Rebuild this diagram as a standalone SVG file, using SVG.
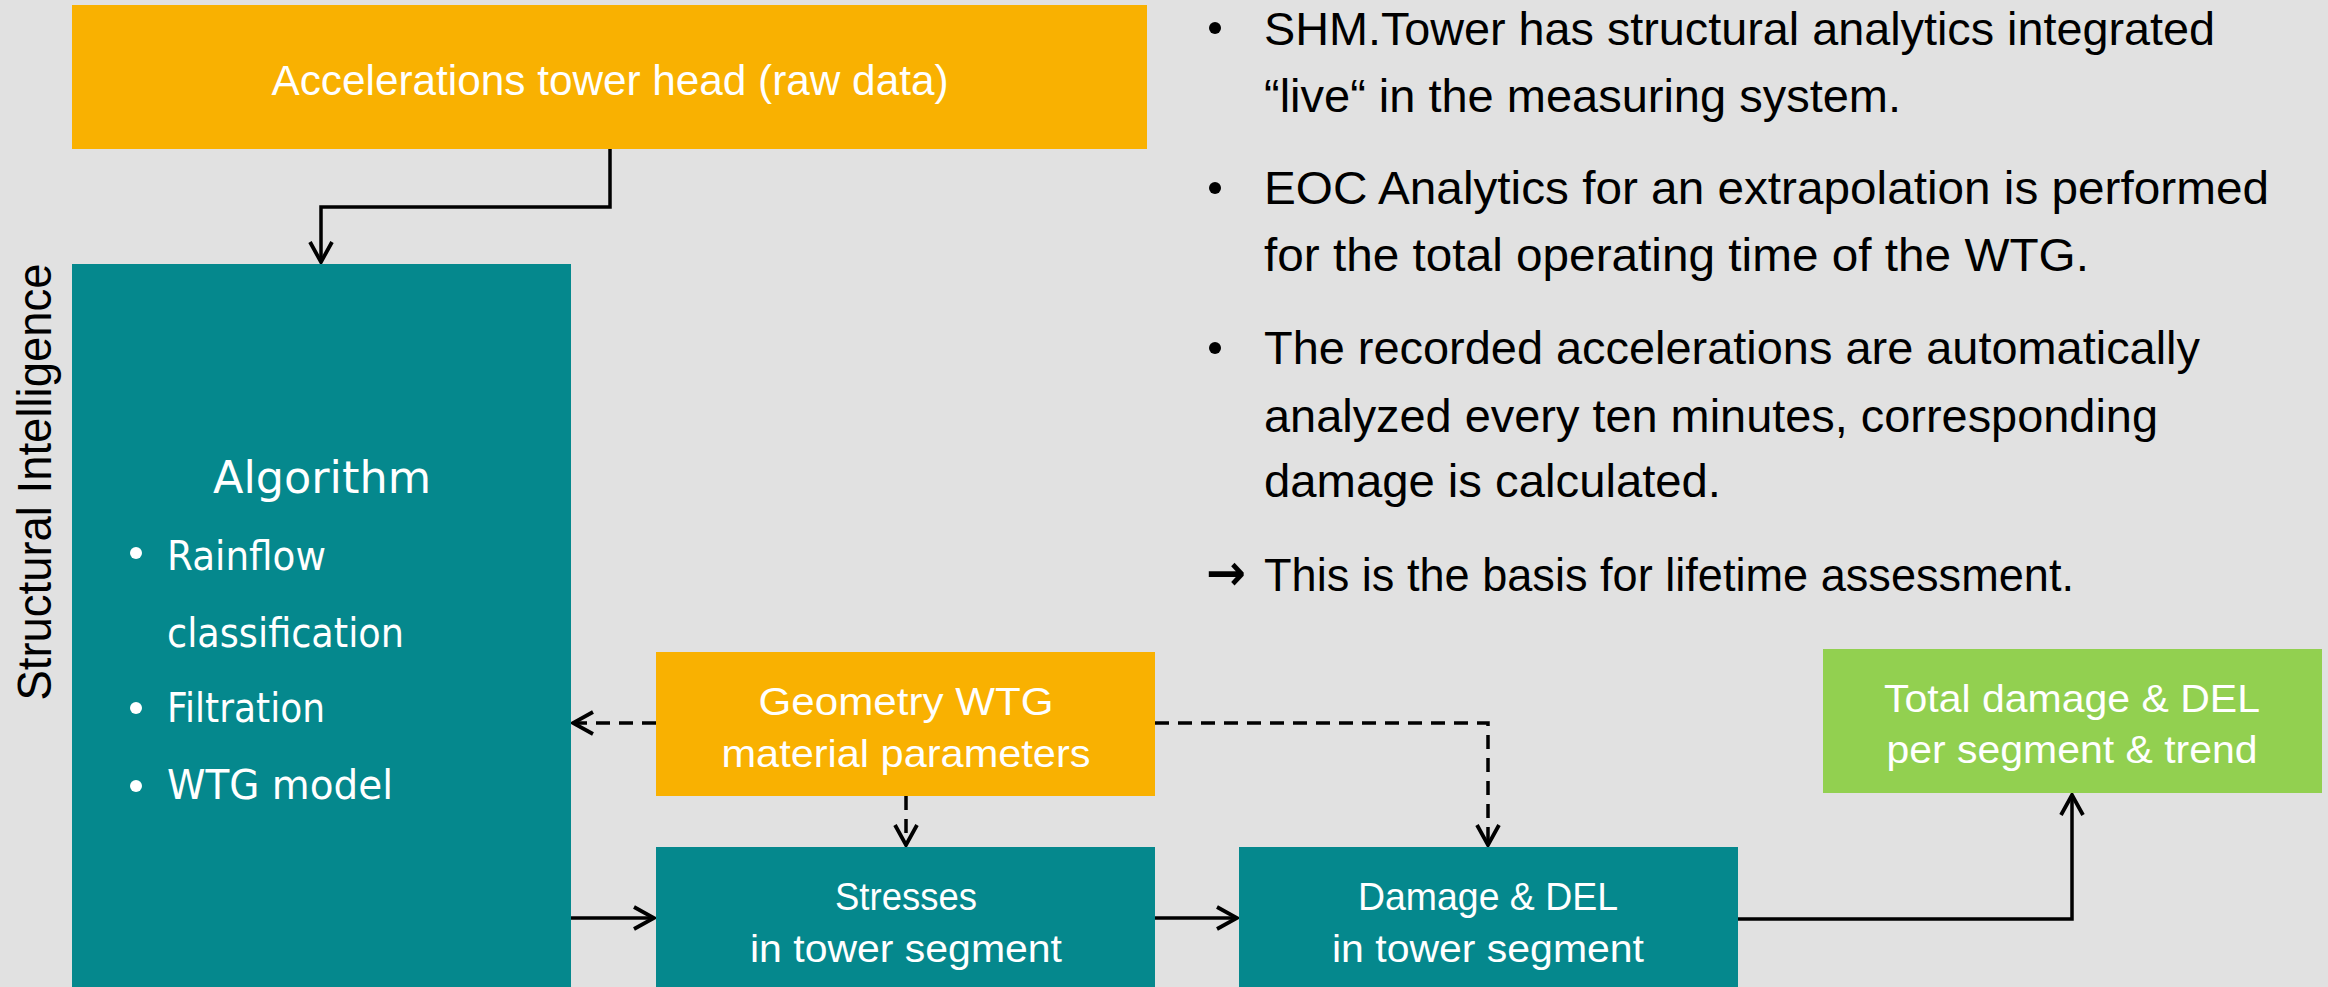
<svg xmlns="http://www.w3.org/2000/svg" width="2328" height="987" viewBox="0 0 2328 987">
<style>
.box-o{fill:#F9B101}
.box-t{fill:#05888D}
.box-g{fill:#92D050}
.wt{fill:#fff;font-family:"Liberation Sans",Arial,sans-serif;text-anchor:middle}
.alg{fill:#fff;font-family:"DejaVu Sans","Liberation Sans",sans-serif}
.bt{fill:#000;font-family:"Liberation Sans",Arial,sans-serif;font-size:46px}
.ln{fill:none;stroke:#000;stroke-width:3.5}
.dash{stroke-dasharray:14 9}
</style>
<defs>
<marker id="arr" viewBox="0 0 24 26" markerWidth="24" markerHeight="26" refX="22" refY="13" orient="auto" markerUnits="userSpaceOnUse">
<path d="M2,2 L22,13 L2,24" fill="none" stroke="#000" stroke-width="3.8"/>
</marker>
</defs>
<rect width="2328" height="987" fill="#E1E1E1"/>

<g id="connectors">
<path class="ln" d="M610,149 V207 H321 V262" marker-end="url(#arr)"/>
<path class="ln" d="M571,918 H654" marker-end="url(#arr)"/>
<path class="ln" d="M1155,918 H1237" marker-end="url(#arr)"/>
<path class="ln" d="M1738,919 H2072 V795" marker-end="url(#arr)"/>
<path class="ln dash" d="M656,723 H573" marker-end="url(#arr)"/>
<path class="ln dash" d="M1155,723 H1488 V845" marker-end="url(#arr)"/>
<path class="ln dash" d="M906,796 V845" marker-end="url(#arr)"/>
</g>

<g id="label-structural">
<text transform="translate(51,482) rotate(-90)" x="0" y="0" font-family="'Liberation Sans',Arial,sans-serif" font-size="48" fill="#000" text-anchor="middle" textLength="437" lengthAdjust="spacingAndGlyphs">Structural Intelligence</text>
</g>

<g id="node-accel">
<rect class="box-o" x="72" y="5" width="1075" height="144"/>
<text class="wt" x="610" y="95" font-size="42" textLength="677" lengthAdjust="spacingAndGlyphs">Accelerations tower head (raw data)</text>
</g>

<g id="node-algorithm">
<rect class="box-t" x="72" y="264" width="499" height="730"/>
<text class="alg" x="213" y="493" font-size="44" textLength="218" lengthAdjust="spacingAndGlyphs">Algorithm</text>
<circle cx="136" cy="553" r="6" fill="#fff"/>
<text class="alg" x="167" y="570" font-size="40" textLength="159" lengthAdjust="spacingAndGlyphs">Rainflow</text>
<text class="alg" x="167" y="647" font-size="40" textLength="237" lengthAdjust="spacingAndGlyphs">classification</text>
<circle cx="136" cy="708" r="6" fill="#fff"/>
<text class="alg" x="167" y="722" font-size="40" textLength="158" lengthAdjust="spacingAndGlyphs">Filtration</text>
<circle cx="136" cy="786" r="6" fill="#fff"/>
<text class="alg" x="167" y="799" font-size="40" textLength="226" lengthAdjust="spacingAndGlyphs">WTG model</text>
</g>

<g id="node-geometry">
<rect class="box-o" x="656" y="652" width="499" height="144"/>
<text class="wt" x="906" y="715" font-size="39" textLength="295" lengthAdjust="spacingAndGlyphs">Geometry WTG</text>
<text class="wt" x="906" y="767" font-size="39" textLength="369" lengthAdjust="spacingAndGlyphs">material parameters</text>
</g>

<g id="node-stresses">
<rect class="box-t" x="656" y="847" width="499" height="150"/>
<text class="wt" x="906" y="910" font-size="39" textLength="142" lengthAdjust="spacingAndGlyphs">Stresses</text>
<text class="wt" x="906" y="962" font-size="39" textLength="312" lengthAdjust="spacingAndGlyphs">in tower segment</text>
</g>

<g id="node-damage">
<rect class="box-t" x="1239" y="847" width="499" height="150"/>
<text class="wt" x="1488" y="910" font-size="39" textLength="260" lengthAdjust="spacingAndGlyphs">Damage &amp; DEL</text>
<text class="wt" x="1488" y="962" font-size="39" textLength="312" lengthAdjust="spacingAndGlyphs">in tower segment</text>
</g>

<g id="node-total">
<rect class="box-g" x="1823" y="649" width="499" height="144"/>
<text class="wt" x="2072" y="712" font-size="39" textLength="376" lengthAdjust="spacingAndGlyphs">Total damage &amp; DEL</text>
<text class="wt" x="2072" y="763" font-size="39" textLength="371" lengthAdjust="spacingAndGlyphs">per segment &amp; trend</text>
</g>

<g id="notes">
<circle cx="1215" cy="28" r="6" fill="#000"/>
<text class="bt" x="1264" y="45" textLength="951" lengthAdjust="spacingAndGlyphs">SHM.Tower has structural analytics integrated</text>
<text class="bt" x="1264" y="112" textLength="637" lengthAdjust="spacingAndGlyphs">“live“ in the measuring system.</text>
<circle cx="1215" cy="188" r="6" fill="#000"/>
<text class="bt" x="1264" y="204" textLength="1005" lengthAdjust="spacingAndGlyphs">EOC Analytics for an extrapolation is performed</text>
<text class="bt" x="1264" y="271" textLength="825" lengthAdjust="spacingAndGlyphs">for the total operating time of the WTG.</text>
<circle cx="1215" cy="348" r="6" fill="#000"/>
<text class="bt" x="1264" y="364" textLength="936" lengthAdjust="spacingAndGlyphs">The recorded accelerations are automatically</text>
<text class="bt" x="1264" y="432" textLength="894" lengthAdjust="spacingAndGlyphs">analyzed every ten minutes, corresponding</text>
<text class="bt" x="1264" y="497" textLength="457" lengthAdjust="spacingAndGlyphs">damage is calculated.</text>
<text x="1206" y="590" font-family="'DejaVu Sans',sans-serif" font-weight="bold" font-size="50" fill="#000" textLength="40" lengthAdjust="spacingAndGlyphs">→</text>
<text class="bt" x="1264" y="591" textLength="810" lengthAdjust="spacingAndGlyphs">This is the basis for lifetime assessment.</text>
</g>
</svg>
